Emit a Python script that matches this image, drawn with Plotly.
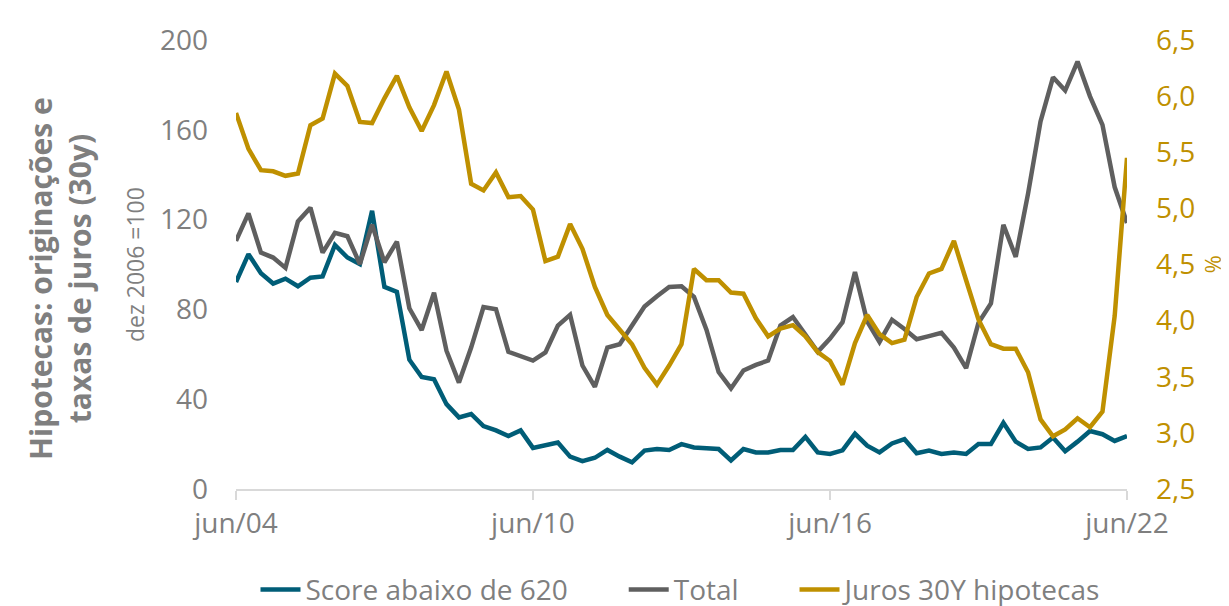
import pandas as pd
import plotly.graph_objects as go

# Quarterly dates jun/04 .. jun/22
quarters = [str(p.end_time.date()) for p in pd.period_range("2004Q2", "2022Q2", freq="Q")]

score_620 = [92.2, 104.6, 96.1, 91.5, 93.7, 90.3, 94.1, 94.7, 108.7, 103.1,
             100.2, 123.9, 90.0, 87.8, 57.6, 49.9, 48.9, 37.8, 31.9, 33.4,
             28.0, 26.1, 23.6, 26.1, 18.3, 19.3, 20.7, 14.4, 12.4, 13.9,
             17.4, 14.4, 11.9, 17.1, 17.8, 17.4, 20.0, 18.5, 18.1, 17.8,
             12.7, 17.8, 16.3, 16.3, 17.4, 17.4, 23.2, 16.3, 15.6, 17.2,
             24.6, 19.3, 16.3, 20.3, 22.2, 15.9, 17.1, 15.6, 16.3, 15.6,
             20.0, 20.0, 29.5, 21.1, 17.8, 18.5, 22.9, 16.8, 21.1, 25.8,
             24.4, 21.4, 23.6]

total = [110.5, 122.8, 105.3, 103.1, 98.5, 119.2, 125.3, 105.3, 114.1, 112.6,
         100.2, 117.7, 101.0, 110.2, 80.5, 70.8, 87.4, 61.6, 47.4, 63.0,
         81.0, 80.1, 61.1, 59.1, 57.2, 60.8, 72.8, 77.6, 55.0, 45.5,
         63.0, 64.5, 72.8, 81.3, 85.9, 90.0, 90.3, 85.6, 71.0, 52.1,
         44.8, 52.8, 55.3, 57.2, 72.8, 76.6, 68.8, 61.1, 67.0, 74.3,
         96.6, 74.7, 65.5, 75.4, 71.3, 66.7, 68.1, 69.6, 63.0, 53.8,
         74.0, 82.7, 117.7, 103.4, 131.6, 163.7, 183.4, 177.5, 190.4, 174.9,
         162.2, 134.5, 118.5]

juros_30y = [5.85, 5.53, 5.34, 5.33, 5.29, 5.31, 5.74, 5.80, 6.20, 6.09,
             5.77, 5.76, 5.98, 6.18, 5.90, 5.69, 5.92, 6.22, 5.88, 5.22,
             5.16, 5.32, 5.10, 5.11, 4.99, 4.53, 4.57, 4.86, 4.64, 4.30,
             4.05, 3.92, 3.79, 3.58, 3.43, 3.60, 3.79, 4.46, 4.36, 4.36,
             4.25, 4.24, 4.02, 3.86, 3.93, 3.96, 3.86, 3.72, 3.64, 3.43,
             3.80, 4.05, 3.88, 3.80, 3.83, 4.21, 4.42, 4.46, 4.71, 4.36,
             4.01, 3.79, 3.75, 3.75, 3.54, 3.12, 2.97, 3.03, 3.13, 3.05,
             3.19, 4.04, 5.45]

x_tick_vals = [quarters[0], quarters[24], quarters[48], quarters[72]]
x_tick_text = ["jun/04", "jun/10", "jun/16", "jun/22"]
left_ticks = [0, 40, 80, 120, 160, 200]
right_ticks = [2.5, 3.0, 3.5, 4.0, 4.5, 5.0, 5.5, 6.0, 6.5]
right_tick_text = [f"{v:.1f}".replace(".", ",") for v in right_ticks]

TEAL = "#005D77"
GREY = "#5F5F5F"
GOLD = "#BF9000"
TXT = "#7F7F7F"
FONT = "Open Sans"

fig = go.Figure()
fig.add_trace(go.Scatter(x=quarters, y=score_620, name="Score abaixo de 620" + "&nbsp;" * 7,
                         mode="lines", line=dict(color=TEAL, width=4.5)))
fig.add_trace(go.Scatter(x=quarters, y=total, name="Total" + "&nbsp;" * 7,
                         mode="lines", line=dict(color=GREY, width=4.5)))
fig.add_trace(go.Scatter(x=quarters, y=juros_30y, name="Juros 30Y hipotecas",
                         mode="lines", line=dict(color=GOLD, width=4.5), yaxis="y2"))

fig.update_layout(
    width=1229, height=606,
    margin=dict(l=228, r=110, t=24, b=125),
    paper_bgcolor="white", plot_bgcolor="white",
    font=dict(family=FONT, color=TXT, size=28),
    showlegend=True,
    legend=dict(orientation="h", x=0.5, xanchor="center", yref="container",
                y=0.04, yanchor="middle", font=dict(size=28, color=TXT),
                itemwidth=40, tracegroupgap=0),
    xaxis=dict(type="date", range=[quarters[0], quarters[-1]],
               tickvals=x_tick_vals, ticktext=x_tick_text,
               showgrid=False, zeroline=False,
               showline=True, linecolor="#D9D9D9", linewidth=1.5,
               ticks="outside", ticklen=9, tickcolor="#D9D9D9", tickwidth=1.5,
               tickfont=dict(size=28, color=TXT)),
    yaxis=dict(range=[0, 200], tickvals=left_ticks, showgrid=False, zeroline=False,
               showline=False, ticks="", ticklabelstandoff=27,
               tickfont=dict(size=28, color=TXT)),
    yaxis2=dict(range=[2.5, 6.5], tickvals=right_ticks, ticktext=right_tick_text,
                overlaying="y", side="right", showgrid=False, zeroline=False,
                showline=False, ticks="", ticklabelstandoff=28,
                tickfont=dict(size=28, color=GOLD)),
    annotations=[
        dict(text="<b>Hipotecas: originações e<br>taxas de juros (30y)</b>",
             xref="paper", yref="paper", x=-0.1975, y=0.468, xanchor="center",
             yanchor="middle", textangle=-90, showarrow=False,
             font=dict(family=FONT, size=30, color=TXT)),
        dict(text="dez 2006 =100", xref="paper", yref="paper", x=-0.1134, y=0.501,
             xanchor="center", yanchor="middle", textangle=-90, showarrow=False,
             font=dict(family=FONT, size=23, color=TXT)),
        dict(text="%", xref="paper", yref="paper", x=1.098, y=0.5,
             xanchor="center", yanchor="middle", textangle=90, showarrow=False,
             font=dict(family=FONT, size=22, color=GOLD)),
    ],
)

fig.write_html("out.html")
